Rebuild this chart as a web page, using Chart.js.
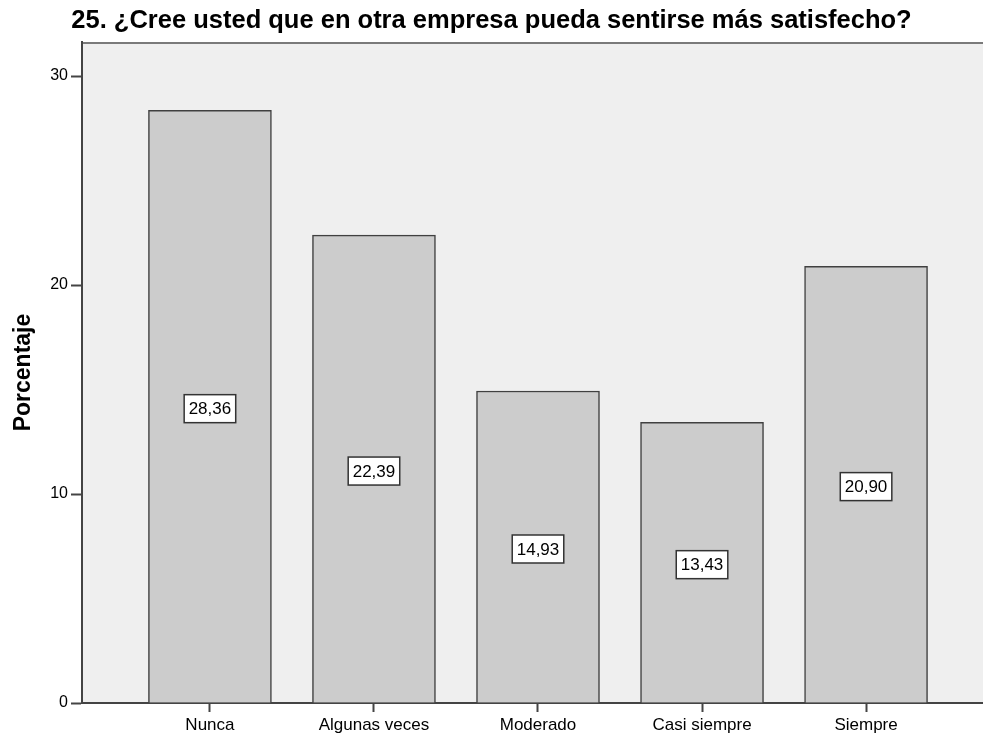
<!DOCTYPE html>
<html>
<head>
<meta charset="utf-8">
<script src="https://cdn.jsdelivr.net/npm/chart.js@4/dist/chart.umd.min.js"></script>
<style>
  html, body { margin: 0; padding: 0; background: #ffffff; }
  #wrap { width: 983px; height: 740px; }
</style>
</head>
<body>
<div id="wrap"><canvas id="chart" width="983" height="740"></canvas></div>
<script>
// Survey question 25: share of respondents per answer (percent)
const categories = ['Nunca', 'Algunas veces', 'Moderado', 'Casi siempre', 'Siempre'];
const percentages = [28.36, 22.39, 14.93, 13.43, 20.90];
const yTickValues = [0, 10, 20, 30];
const titleText = '25. ¿Cree usted que en otra empresa pueda sentirse más satisfecho?';
const yAxisTitle = 'Porcentaje';

const FONT = "'Liberation Sans', Arial, sans-serif";

// Light grey plot background and grey frame line along the top
const plotBackground = {
  id: 'plotBackground',
  beforeDraw(chart) {
    const { ctx, chartArea: a } = chart;
    ctx.save();
    ctx.fillStyle = '#efefef';
    ctx.fillRect(a.left, a.top, a.right - a.left, a.bottom - a.top);
    ctx.strokeStyle = '#7a7a7a';
    ctx.lineWidth = 2;
    ctx.beginPath();
    ctx.moveTo(a.left, a.top + 1);
    ctx.lineTo(a.right, a.top + 1);
    ctx.stroke();
    ctx.restore();
  }
};

// Boxed value labels in the middle of each bar
const valueBoxes = {
  id: 'valueBoxes',
  afterDatasetsDraw(chart) {
    const { ctx } = chart;
    const yScale = chart.scales.y;
    const meta = chart.getDatasetMeta(0);
    ctx.save();
    ctx.font = '17px ' + FONT;
    ctx.textAlign = 'center';
    ctx.textBaseline = 'middle';
    meta.data.forEach((bar, i) => {
      const v = percentages[i];
      const txt = v.toFixed(2).replace('.', ',');
      const w = ctx.measureText(txt).width + 9;
      const h = 28;
      const cx = bar.x;
      const cy = yScale.getPixelForValue(v / 2) + 2;
      ctx.fillStyle = '#ffffff';
      ctx.fillRect(cx - w / 2, cy - h / 2, w, h);
      ctx.strokeStyle = '#333333';
      ctx.lineWidth = 1.5;
      ctx.strokeRect(cx - w / 2, cy - h / 2, w, h);
      ctx.fillStyle = '#000000';
      ctx.fillText(txt, cx, cy + 1);
    });
    ctx.restore();
  }
};

new Chart(document.getElementById('chart'), {
  type: 'bar',
  data: {
    datasets: [{
      data: percentages.map((v, i) => ({ x: i, y: v })),
      backgroundColor: '#cccccc',
      borderColor: '#404040',
      borderWidth: 1.5,
      barThickness: 123
    }]
  },
  options: {
    responsive: false,
    animation: false,
    layout: { padding: 0 },
    plugins: {
      legend: { display: false },
      tooltip: { enabled: false },
      title: {
        display: true,
        text: titleText,
        color: '#000000',
        font: { family: FONT, size: 25.5, weight: 'bold', lineHeight: 1.2 },
        padding: { top: 5.9, bottom: 5.5 }
      }
    },
    scales: {
      x: {
        type: 'linear',
        offset: false,
        min: -0.78,
        max: 4.713,
        afterBuildTicks(scale) {
          scale.ticks = categories.map((c, i) => ({ value: i }));
        },
        afterFit(scale) { scale.height = 37; },
        ticks: {
          color: '#000000',
          font: { family: FONT, size: 17 },
          padding: 3,
          maxRotation: 0,
          autoSkip: false,
          callback: (v) => categories[v]
        },
        grid: {
          offset: false,
          drawOnChartArea: false,
          drawTicks: true,
          tickLength: 9,
          tickWidth: 2,
          tickColor: '#444444'
        },
        border: { display: true, color: '#444444', width: 2 }
      },
      y: {
        min: 0,
        max: 31.63,
        afterBuildTicks(scale) {
          scale.ticks = yTickValues.map(v => ({ value: v }));
        },
        afterFit(scale) { scale.width = 82; },
        ticks: {
          color: '#000000',
          font: { family: FONT, size: 16 },
          padding: 3
        },
        grid: {
          drawOnChartArea: false,
          drawTicks: true,
          tickLength: 11,
          tickWidth: 2,
          tickColor: '#444444'
        },
        border: { display: true, color: '#444444', width: 2 },
        title: {
          display: true,
          text: yAxisTitle,
          color: '#000000',
          font: { family: FONT, size: 23, weight: 'bold', lineHeight: 1.2 },
          padding: { top: 10.2, bottom: 0 }
        }
      }
    }
  },
  plugins: [plotBackground, valueBoxes]
});
</script>
</body>
</html>
